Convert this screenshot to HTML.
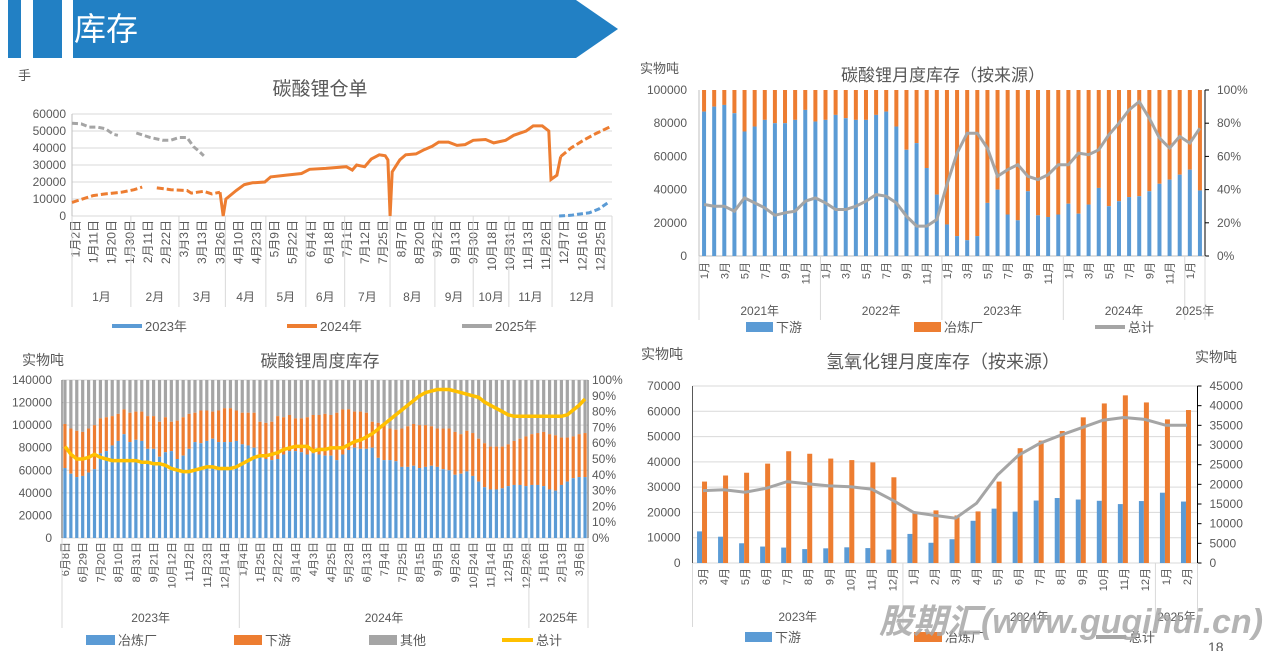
<!DOCTYPE html>
<html><head><meta charset="utf-8"><style>
body{margin:0;background:#fff;}
svg{display:block;font-family:"Liberation Sans","Noto Sans CJK SC",sans-serif;}
text{fill:#595959;}
</style></head><body>
<svg id="chart" width="1281" height="651" viewBox="0 0 1281 651" xmlns="http://www.w3.org/2000/svg">
<g>
<rect x="8" y="0" width="13" height="58" fill="#2280c4"/>
<rect x="33" y="0" width="29" height="58" fill="#2280c4"/>
<polygon points="73,0 576,0 618,29 576,58 73,58" fill="#2280c4"/>
<text x="74" y="40" font-size="32" style="fill:#fff">库存</text>
</g>
<text x="18" y="80" font-size="13">手</text>
<text x="320" y="95" font-size="19" text-anchor="middle">碳酸锂仓单</text>
<text x="640" y="73" font-size="13">实物吨</text>
<text x="943" y="81" font-size="17" text-anchor="middle">碳酸锂月度库存（按来源）</text>
<text x="22" y="365" font-size="14">实物吨</text>
<text x="320" y="367" font-size="17" text-anchor="middle">碳酸锂周度库存</text>
<text x="641" y="359" font-size="14">实物吨</text>
<text x="1195" y="362" font-size="14">实物吨</text>
<text x="943" y="368" font-size="18" text-anchor="middle">氢氧化锂月度库存（按来源）</text>
</svg>
<script>
// ===== Chart 1 data =====
const c1Months=['1月','2月','3月','4月','5月','6月','7月','8月','9月','10月','11月','12月'];
const c1MonthStart=[0,10.9,19.8,28.4,35.9,43.3,50.5,58.9,67.2,74.3,80.9,88.9,100];
const c1Ticks=['1月2日','1月11日','1月20日','1月30日','2月11日','2月22日','3月3日','3月13日','3月26日','4月10日','4月23日','5月9日','5月22日','6月4日','6月18日','7月1日','7月12日','7月25日','8月7日','8月20日','9月2日','9月13日','9月30日','10月18日','10月31日','11月13日','11月26日','12月7日','12月16日','12月25日'];
const c1YTicks=[0,10000,20000,30000,40000,50000,60000];
const s2024t=[0,3.9,6.2,9.2,11.5,13.0,null,15.7,18.3,21.3,22.1,24.4,25.9,27.4,28.0,28.5,30.4,31.9,33.4,35.7,36.8,39.5,42.5,44.0,47.0,50.8,51.9,52.7,54.2,55.4,56.9,58.0,58.5,58.9,59.3,60.7,61.8,63.7,65.2,66.7,67.9,69.7,71.3,72.8,74.3,76.6,78.1,80.3,81.8,84.1,85.4,87.1,88.3,88.7,89.8,90.5,92.4,94.7,97.0,100];
const s2024v=[8000,12000,13000,14000,15500,17000,null,16500,15500,15000,13500,14500,13000,14000,0,10000,15000,18500,19500,20000,23000,24000,25000,27500,28000,29000,27000,30000,29000,33500,36000,35500,33000,0,26000,33000,36000,36500,39000,41000,43500,43500,41500,42000,44500,45000,43000,44500,47500,50000,53000,53000,50000,21500,24000,35000,40000,44500,48500,53000];
const s2024SolidFrom=27.4, s2024SolidTo=90.5;
const s2025t=[0,1.7,3.2,4.7,6.2,7.7,8.5,null,11.9,14.5,16.8,18.3,19.8,21.3,22.5,23.6,24.4];
const s2025v=[54600,54200,52300,52300,51300,48000,47500,null,48800,46200,44600,44600,46200,46200,40800,37900,35400];
const s2023t=[90.2,92.4,93.9,95.8,97.6,99.2];
const s2023v=[0,400,1100,1900,4200,7700];
// ===== Chart 2 data =====
const c2Years=['2021年','2022年','2023年','2024年','2025年'];
const c2Down=[87,90,91,86,75,78,82,80,80,82,88,81, 82,85,83,82,82,85,87,78,64,68,53,37, 19,12,9.5,12,32,40,25,21.5,39,24.5,23.5,25, 31.5,25.5,31,41,30,33,35.5,36,39,43.5,46,49, 52,39.5];
const c2Total=[31,30,30,27,35,32,29,24.5,26,27,33,35, 32,28,28,30,33,37,36,32,24,18,18,22, 43,62,74,74,65,48,52,55,48,46,49,55, 55,62,61,64,73,80,88,93,83,71,65,72, 68,77];
const c2YTicks=[0,20000,40000,60000,80000,100000];
const c2RTicks=['0%','20%','40%','60%','80%','100%'];
// ===== Chart 3 data =====
const c3Ticks=['6月8日','6月29日','7月20日','8月10日','8月31日','9月21日','10月12日','11月2日','11月23日','12月14日','1月4日','1月25日','2月22日','3月14日','4月3日','4月25日','5月23日','6月13日','7月4日','7月25日','8月15日','9月5日','9月26日','10月24日','11月14日','12月5日','12月26日','1月16日','2月13日','3月6日'];
const c3Smelter=[62,57,54,55,58,61,75,77,82,86,92,85,87,86,79,79,72,76,77,70,73,79,85,84,86,88,85,85,85,86,83,82,80,73,70,69,70,74,77,77,76,74,75,74,73,73,69,74,78,80,79,79,80,71,69,69,68,63,63,64,62,63,64,63,61,60,56,57,59,55,50,45,43,43,44,46,47,47,46,47,47,46,43,42,47,50,53,54,54];
const c3SmeltDown=[101,97,95,94,97,100,106,107,108,110,114,111,112,112,108,108,103,107,103,104,107,110,111,113,113,112,113,115,115,113,111,111,111,103,102,103,108,107,109,106,106,107,109,109,110,109,111,114,114,112,112,111,103,102,102,97,96,97,99,101,100,100,99,97,97,97,94,92,95,93,88,84,81,81,81,83,86,88,90,92,93,94,92,91,89,89,90,92,93];
const c3Total=[58,53,50,50,51,53,51,50,49,49,49,49,49,48,48,47,47,46,44,43,42,42,43,44,45,45,44,44,44,45,47,49,51,52,52,53,54,56,57,58,58,58,55,56,56,57,57,57,59,61,62,64,66,69,72,75,78,81,84,87,90,92,93,94,94,94,93,92,91,90,89,86,84,82,80,78,77,77,77,77,77,77,77,77,77,78,81,84,88];
const c3YTicks=[0,20000,40000,60000,80000,100000,120000,140000];
const c3RTicks=['0%','10%','20%','30%','40%','50%','60%','70%','80%','90%','100%'];
const c3Years=['2023年','2024年','2025年'];
const c3YearStart=[0,30,79,89];
// ===== Chart 4 data =====
const c4Months=['3月','4月','5月','6月','7月','8月','9月','10月','11月','12月','1月','2月','3月','4月','5月','6月','7月','8月','9月','10月','11月','12月','1月','2月'];
const c4Down=[12500,10400,7800,6500,6100,5500,5800,6200,5900,5300,11500,8000,9400,16700,21500,20300,24700,25700,25100,24600,23300,24500,27800,24300];
const c4Smelter=[32200,34600,35700,39300,44200,43200,41300,40700,39800,33900,19700,20800,18800,20400,32200,45400,48400,52200,57600,63100,66300,63500,56800,60500];
const c4Total=[18400,18600,18000,19000,20700,20100,19600,19400,18800,16000,12900,12100,11400,15200,22400,27400,30400,32500,34400,36300,37000,36500,35000,35000];
const c4LTicks=[0,10000,20000,30000,40000,50000,60000,70000];
const c4RTicks=[0,5000,10000,15000,20000,25000,30000,35000,40000,45000];
const c4Years=['2023年','2024年','2025年'];
const c4YearStart=[0,10,22,24];

const NS='http://www.w3.org/2000/svg';
const svg=document.getElementById('chart');
function mk(tag,attrs,parent){const e=document.createElementNS(NS,tag);for(const k in attrs)e.setAttribute(k,attrs[k]);(parent||svg).appendChild(e);return e;}
function grp(){const g=mk('g',{});return g;}
function rotLabel(g,x,y,s,fs){const t=mk('text',{x:x,y:y,'font-size':fs,'text-anchor':'end',transform:'rotate(-90 '+x+' '+y+')'},g);t.textContent=s;return t;}
function label(g,x,y,s,fs,anchor){const t=mk('text',{x:x,y:y,'font-size':fs,'text-anchor':anchor||'start'},g);t.textContent=s;return t;}
function legendRect(g,x,y,w,color,s){const r=mk('rect',{x:x,y:y-5,width:w,height:10,fill:color},g);label(g,x+w+3,y+5,s,13);return r;}
function legendLine(g,x,y,w,color,s){const l=mk('line',{x1:x,y1:y,x2:x+w,y2:y,stroke:color,'stroke-width':4},g);label(g,x+w+3,y+5,s,13);return l;}

// ================= Chart 1 =================
(function(){
const X0=72,X1=612,YB=216,YT=114;
const x=u=>X0+u/100*(X1-X0);
const y=v=>YB-v/60000*(YB-YT);
const g=grp();


c1YTicks.forEach(v=>{
  const l=mk('line',{x1:X0,y1:y(v),x2:X1,y2:y(v),stroke:'#d9d9d9','stroke-width':1},g);
  
  
  const t=label(g,X0-6,y(v)+4,String(v),12,'end');
  
  
});
const ax=mk('line',{x1:X0,y1:YT,x2:X0,y2:YB,stroke:'#bfbfbf'},g);


c1Ticks.forEach((s,k)=>{
  const t=rotLabel(g,75.5+k*18.1+4,220,s,12);
  
  
});
c1MonthStart.forEach((u,k)=>{
  const l=mk('line',{x1:x(u),y1:YB,x2:x(u),y2:307,stroke:'#d9d9d9'},g);
  
  
  if(k<c1Months.length){
    const t=label(g,(x(u)+x(c1MonthStart[k+1]))/2,301,c1Months[k],12,'middle');
    
    
  }
});
function paths(ts,vs,filter){
  const segs=[];let cur='';
  for(let i=0;i<ts.length;i++){
    if(ts[i]===null||!filter(ts[i])){if(cur)segs.push(cur);cur='';continue;}
    cur+=(cur?'L':'M')+x(ts[i]).toFixed(1)+','+y(vs[i]).toFixed(1);
  }
  if(cur)segs.push(cur);return segs.join(' ');
}
const p25=mk('path',{d:paths(s2025t,s2025v,()=>true),fill:'none',stroke:'#a5a5a5','stroke-width':3,'stroke-dasharray':'6,3'},g);


const p24a=mk('path',{d:paths(s2024t,s2024v,t=>t<=s2024SolidFrom),fill:'none',stroke:'#ed7d31','stroke-width':3,'stroke-dasharray':'7,3'},g);


const p24b=mk('path',{d:paths(s2024t,s2024v,t=>t>=s2024SolidFrom&&t<=s2024SolidTo),fill:'none',stroke:'#ed7d31','stroke-width':3},g);


const p24c=mk('path',{d:paths(s2024t,s2024v,t=>t>=s2024SolidTo),fill:'none',stroke:'#ed7d31','stroke-width':3,'stroke-dasharray':'7,3'},g);


const p23=mk('path',{d:paths(s2023t,s2023v,()=>true),fill:'none',stroke:'#5b9bd5','stroke-width':3,'stroke-dasharray':'6,3'},g);


const l1=legendLine(g,112,326,30,'#5b9bd5','2023年');


const l2=legendLine(g,287,326,30,'#ed7d31','2024年');


const l3=legendLine(g,462,326,30,'#a5a5a5','2025年');


})();

// ================= Chart 2 =================
(function(){
const X0=699,X1=1205,YB=256,YT=90,N=c2Down.length,cw=(X1-X0)/N;
const x=i=>X0+(i+0.5)*cw;
const y=v=>YB-v/100000*(YB-YT);
const yr=p=>YB-p/100*(YB-YT);
const g=grp();


c2YTicks.forEach((v,k)=>{
  const t=label(g,X0-12,y(v)+4,String(v),12,'end');
  
  
  const r=label(g,X1+12,y(v)+4,c2RTicks[k],12);
  
  
  const tk=mk('line',{x1:X1,y1:y(v),x2:X1+4,y2:y(v),stroke:'#000'},g);
  
  
});
const a1=mk('line',{x1:X0,y1:YT,x2:X0,y2:YB,stroke:'#bfbfbf'},g);


const a2=mk('line',{x1:X1,y1:YT,x2:X1,y2:YB,stroke:'#000'},g);


const a3=mk('line',{x1:X0,y1:YB,x2:X1,y2:YB,stroke:'#bfbfbf'},g);


for(let i=0;i<N;i++){
  const bv=c2Down[i]*1000;
  const o=mk('rect',{x:x(i)-2,y:YT,width:4,height:y(bv)-YT,fill:'#ed7d31'},g);
  
  
  const b=mk('rect',{x:x(i)-2,y:y(bv),width:4,height:YB-y(bv),fill:'#5b9bd5'},g);
  
  
  if(i%2===0){
    const t=rotLabel(g,x(i)+4,262,((i%12)+1)+'月',11);
    
    
  }
}
for(let k=0;k<=c2Years.length;k++){
  const i0=Math.min(k*12,N);
  const l=mk('line',{x1:X0+i0*cw,y1:YB,x2:X0+i0*cw,y2:320,stroke:'#d9d9d9'},g);
  
  
  if(k<c2Years.length){
    const i1=Math.min((k+1)*12,N);
    const t=label(g,X0+(i0+i1)/2*cw,315,c2Years[k],12,'middle');
    
    
  }
}
const d=c2Total.map((p,i)=>(i?'L':'M')+x(i).toFixed(1)+','+yr(p).toFixed(1)).join('');
const ln=mk('path',{d:d,fill:'none',stroke:'#a5a5a5','stroke-width':3},g);


const l1=legendRect(g,746,327,27,'#5b9bd5','下游');


const l2=legendRect(g,914,327,27,'#ed7d31','冶炼厂');


const l3=legendLine(g,1095,327,30,'#a5a5a5','总计');


})();

// ================= Chart 3 =================
(function(){
const X0=62,X1=588,YB=538,YT=380,N=c3Smelter.length,cw=(X1-X0)/N;
const x=i=>X0+(i+0.5)*cw;
const y=v=>YB-v/140000*(YB-YT);
const yr=p=>YB-p/100*(YB-YT);
const g=grp();


c3YTicks.forEach(v=>{
  const l=mk('line',{x1:X0,y1:y(v),x2:X1,y2:y(v),stroke:'#d9d9d9'},g);
  
  
  const t=label(g,X0-10,y(v)+4,String(v),12,'end');
  
  
});
c3RTicks.forEach((s,k)=>{
  const t=label(g,X1+4,yr(k*10)+4,s,12);
  
  
});
for(let i=0;i<N;i++){
  const top=c3SmeltDown[i]*1000, bl=c3Smelter[i]*1000;
  const gr=mk('rect',{x:x(i)-1.6,y:YT,width:3.2,height:y(top)-YT,fill:'#a5a5a5'},g);
  
  
  const o=mk('rect',{x:x(i)-1.6,y:y(top),width:3.2,height:y(bl)-y(top),fill:'#ed7d31'},g);
  
  
  const b=mk('rect',{x:x(i)-1.6,y:y(bl),width:3.2,height:YB-y(bl),fill:'#5b9bd5'},g);
  
  
}
const a1=mk('line',{x1:X0,y1:YT,x2:X0,y2:YB,stroke:'#595959'},g);


const a2=mk('line',{x1:X1,y1:YT,x2:X1,y2:YB,stroke:'#595959'},g);


c3Ticks.forEach((s,k)=>{
  const t=rotLabel(g,x(k*3)+4,542,s,11);
  
  
});
c3YearStart.forEach((i0,k)=>{
  const l=mk('line',{x1:X0+i0*cw,y1:YB,x2:X0+i0*cw,y2:628,stroke:'#d9d9d9'},g);
  
  
  if(k<c3Years.length){
    const t=label(g,X0+(i0+c3YearStart[k+1])/2*cw,622,c3Years[k],12,'middle');
    
    
  }
});
const d=c3Total.map((p,i)=>(i?'L':'M')+x(i).toFixed(1)+','+yr(p).toFixed(1)).join('');
const ln=mk('path',{d:d,fill:'none',stroke:'#ffc000','stroke-width':3.5},g);


const l1=legendRect(g,86,640,29,'#5b9bd5','冶炼厂');


const l2=legendRect(g,234,640,28,'#ed7d31','下游');


const l3=legendRect(g,369,640,28,'#a5a5a5','其他');


const l4=legendLine(g,502,640,31,'#ffc000','总计');


})();

// ================= Chart 4 =================
(function(){
const X0=692.5,X1=1197.5,YB=563,YT=386,N=c4Down.length,cw=(X1-X0)/N;
const x=i=>X0+(i+0.5)*cw;
const yl=v=>YB-v/70000*(YB-YT);
const yr=v=>YB-v/45000*(YB-YT);
const g=grp();


c4LTicks.forEach(v=>{
  const l=mk('line',{x1:X0,y1:yl(v),x2:X1,y2:yl(v),stroke:'#d9d9d9'},g);
  
  
  const t=label(g,X0-12,yl(v)+4,String(v),12,'end');
  
  
});
c4RTicks.forEach(v=>{
  const t=label(g,X1+12,yr(v)+4,String(v),12);
  
  
  const tk=mk('line',{x1:X1,y1:yr(v),x2:X1+4,y2:yr(v),stroke:'#000'},g);
  
  
});
const a1=mk('line',{x1:X0,y1:YT,x2:X0,y2:YB,stroke:'#595959'},g);


const a2=mk('line',{x1:X1,y1:YT,x2:X1,y2:YB,stroke:'#000'},g);


for(let i=0;i<N;i++){
  const b=mk('rect',{x:x(i)-6,y:yl(c4Down[i]),width:5,height:YB-yl(c4Down[i]),fill:'#5b9bd5'},g);
  
  
  const o=mk('rect',{x:x(i)-1,y:yl(c4Smelter[i]),width:5,height:YB-yl(c4Smelter[i]),fill:'#ed7d31'},g);
  
  
  const t=rotLabel(g,x(i)+4,568,c4Months[i],11);
  
  
}
c4YearStart.forEach((i0,k)=>{
  const l=mk('line',{x1:X0+i0*cw,y1:YB,x2:X0+i0*cw,y2:627,stroke:'#d9d9d9'},g);
  
  
  if(k<c4Years.length){
    const t=label(g,X0+(i0+c4YearStart[k+1])/2*cw,621,c4Years[k],12,'middle');
    
    
  }
});
const d=c4Total.map((v,i)=>(i?'L':'M')+x(i).toFixed(1)+','+yr(v).toFixed(1)).join('');
const ln=mk('path',{d:d,fill:'none',stroke:'#a5a5a5','stroke-width':3},g);


const l1=legendRect(g,745,637,27,'#5b9bd5','下游');


const l2=legendRect(g,914,637,28,'#ed7d31','冶炼厂');


const l3=legendLine(g,1096,637,30,'#a5a5a5','总计');


const wm=label(svg,1071,633,'股期汇(www.gugihui.cn)',34,'middle');
wm.setAttribute('style','fill:#a8a8a8;opacity:0.85;font-weight:bold;font-style:italic');


const pg=label(svg,1208,652,'18',14);


})();
</script>
</body></html>
